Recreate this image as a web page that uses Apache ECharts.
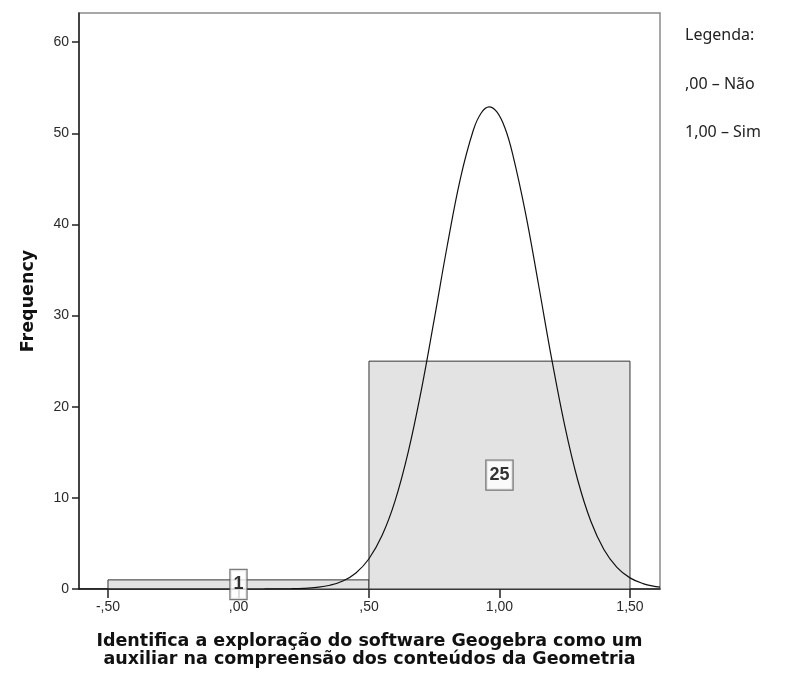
<!DOCTYPE html>
<html>
<head>
<meta charset="utf-8">
<script src="https://cdn.jsdelivr.net/npm/echarts@6/dist/echarts.min.js"></script>
<style>html,body{margin:0;padding:0;background:#fff}#c{width:791px;height:673px}</style>
</head>
<body>
<div id="c"></div>
<script>
// Histogram bins (start, end) and frequencies
const binStart = [-0.5, 0.5];
const binEnd = [0.5, 1.5];
const freq = [1, 25];
// Normal curve
const curveX = [-0.611, -0.4, -0.2, 0.0, 0.1, 0.2, 0.25, 0.3, 0.35, 0.4, 0.45, 0.5, 0.55, 0.6, 0.65, 0.7, 0.75, 0.8, 0.85, 0.9, 0.93, 0.96, 0.99, 1.02, 1.05, 1.1, 1.15, 1.2, 1.25, 1.3, 1.35, 1.4, 1.45, 1.5, 1.55, 1.6, 1.615];
const curveY = [0, 0, 0, 0, 0.003, 0.03, 0.07, 0.18, 0.41, 0.88, 1.76, 3.32, 5.86, 9.67, 14.99, 21.75, 29.58, 37.69, 45.01, 50.36, 52.23, 52.9, 52.35, 50.66, 47.78, 41.22, 33.33, 25.25, 17.93, 11.93, 7.43, 4.34, 2.38, 1.22, 0.59, 0.26, 0.2];
// Tick labels
const yTicks = [0, 10, 20, 30, 40, 50, 60];
const xTicks = [-0.5, 0, 0.5, 1, 1.5];
const xTickLabels = ['-,50', ',00', ',50', '1,00', '1,50'];
const legendLines = ['Legenda:', ',00 – Não', '1,00 – Sim'];

const chart = echarts.init(document.getElementById('c'), null, {renderer: 'canvas'});

const barData = binStart.map((s, i) => [s, binEnd[i], freq[i]]);
const labelData = binStart.map((s, i) => [(s + binEnd[i]) / 2, freq[i] / 2, freq[i]]);
const curveData = curveX.map((x, i) => [x, curveY[i]]);

const tickFont = {fontFamily: 'Liberation Sans, Arial, sans-serif', fontSize: 14, color: '#2a2a2a'};
const nameFont = {fontFamily: 'DejaVu Sans, sans-serif', fontSize: 17.5, fontWeight: 'bold', color: '#111'};

chart.setOption({
  animation: false,
  backgroundColor: '#fff',
  grid: {left: 79, right: 131, top: 13, bottom: 84, show: true, borderColor: '#8a8a8a', borderWidth: 1.5, backgroundColor: 'transparent'},
  xAxis: {
    type: 'value', min: -0.611, max: 1.615,
    axisLine: {show: true, onZero: false, lineStyle: {color: '#222', width: 1.5}},
    axisTick: {show: true, length: 9, customValues: xTicks, lineStyle: {color: '#222', width: 1.5}},
    splitLine: {show: false},
    axisLabel: {customValues: xTicks, margin: 11, ...tickFont,
      formatter: v => { const i = xTicks.findIndex(t => Math.abs(t - v) < 1e-6); return i >= 0 ? xTickLabels[i] : ''; }},
    name: 'Identifica a exploração do software Geogebra como um\nauxiliar na compreensão dos conteúdos da Geometria',
    nameLocation: 'middle', nameGap: 43,
    nameTextStyle: {...nameFont, lineHeight: 18}
  },
  yAxis: {
    type: 'value', min: 0, max: 63.2,
    axisLine: {show: true, onZero: false, lineStyle: {color: '#222', width: 1.5}},
    axisTick: {show: true, length: 7, customValues: yTicks, lineStyle: {color: '#222', width: 1.5}},
    splitLine: {show: false},
    axisLabel: {customValues: yTicks, margin: 10, ...tickFont},
    name: 'Frequency', nameLocation: 'middle', nameGap: 42,
    nameTextStyle: nameFont
  },
  series: [
    {
      type: 'custom', z: 1,
      data: barData,
      renderItem: (params, api) => {
        const p0 = api.coord([api.value(0), 0]);
        const p1 = api.coord([api.value(1), api.value(2)]);
        return {type: 'rect', shape: {x: p0[0], y: p1[1], width: p1[0] - p0[0], height: p0[1] - p1[1]},
          style: {fill: '#e3e3e3', stroke: '#333', lineWidth: 1}};
      }
    },
    {
      type: 'line', z: 3, data: curveData, showSymbol: false, smooth: 0.4,
      lineStyle: {color: '#111', width: 1.2}, silent: true
    },
    {
      type: 'scatter', z: 5, data: labelData, symbolSize: 0,
      label: {show: true, position: 'inside', formatter: p => String(p.value[2]),
        fontFamily: 'Liberation Sans, Arial, sans-serif', fontSize: 18, fontWeight: 'bold', color: '#000',
        backgroundColor: '#fff', borderColor: '#555', borderWidth: 1.2, padding: [6, 3, 5, 3]}
    }
  ],
  graphic: legendLines.map((t, i) => ({
    type: 'text', left: 685, top: [27, 76, 124][i],
    style: {text: t, fontFamily: 'Noto Sans, Open Sans, sans-serif', fontSize: 16, fill: '#222'}
  }))
});
</script>
</body>
</html>
